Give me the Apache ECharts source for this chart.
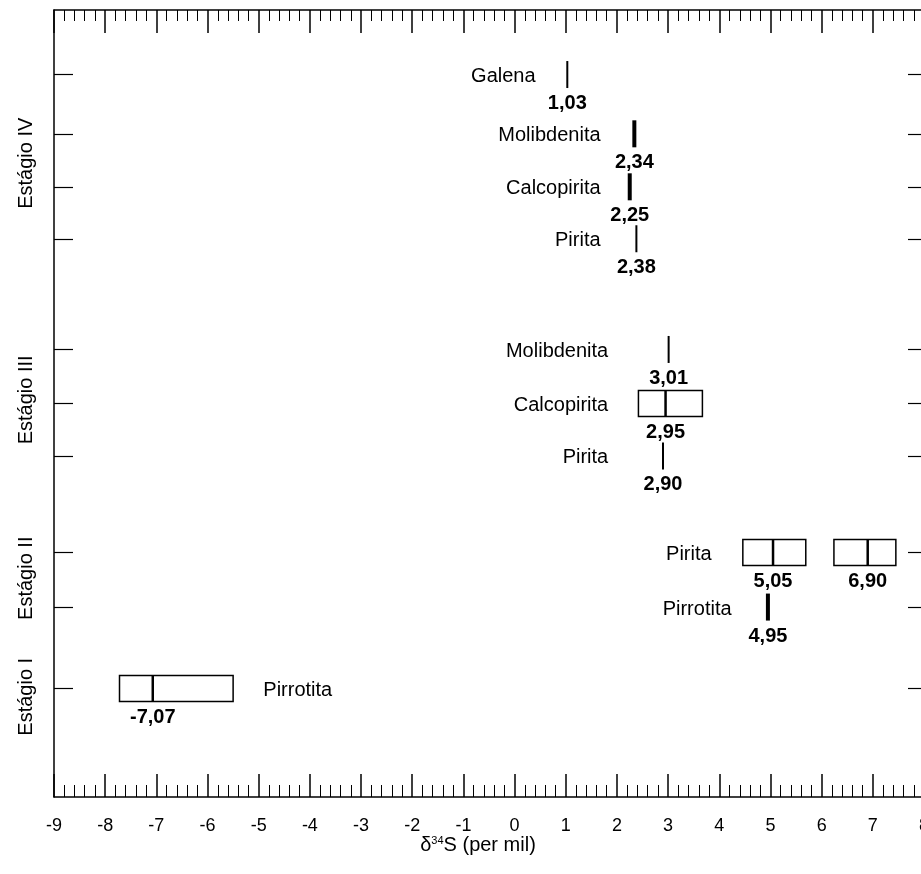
<!DOCTYPE html>
<html>
<head>
<meta charset="utf-8">
<script src="https://cdn.jsdelivr.net/npm/echarts@6/dist/echarts.min.js"></script>
<style>
html,body{margin:0;padding:0;background:#fff;}
#chart{width:921px;height:874px;}
</style>
</head>
<body>
<div id="chart"></div>
<script>
// ---- data ----
const stageNames = ['Estágio I', 'Estágio II', 'Estágio III', 'Estágio IV'];
const stageCenters = [1.91, 4.17, 7.57, 12.08];
const rowTicks = [2.07, 3.62, 4.66, 6.50, 7.50, 8.53, 10.64, 11.63, 12.64, 13.77];

// one entry per mark
const markMineral = ['Galena', 'Molibdenita', 'Calcopirita', 'Pirita', 'Molibdenita', 'Calcopirita', 'Pirita', 'Pirita', 'Pirita', 'Pirrotita', 'Pirrotita'];
const markRow = [13.77, 12.64, 11.63, 10.64, 8.53, 7.50, 6.50, 4.66, 4.66, 3.62, 2.07];
const markValue = [1.03, 2.34, 2.25, 2.38, 3.01, 2.95, 2.90, 5.05, 6.90, 4.95, -7.07];
const rangeLow = [null, null, null, null, null, 2.42, null, 4.46, 6.24, null, -7.72];
const rangeHigh = [null, null, null, null, null, 3.67, null, 5.69, 7.45, null, -5.50];

// one entry per mineral name label
const labelText = ['Galena', 'Molibdenita', 'Calcopirita', 'Pirita', 'Molibdenita', 'Calcopirita', 'Pirita', 'Pirita', 'Pirrotita', 'Pirrotita'];
const labelRow = [13.77, 12.64, 11.63, 10.64, 8.53, 7.50, 6.50, 4.66, 3.62, 2.07];
const labelAnchor = [0.41, 1.68, 1.68, 1.68, 1.83, 1.83, 1.83, 3.85, 4.24, -4.91];

// ---- styles ----
const FONT = '"Liberation Sans", Arial, sans-serif';
const thickMark = [false, true, true, false, false, false, false, false, false, true, false];
const labelAlign = ['right', 'right', 'right', 'right', 'right', 'right', 'right', 'right', 'right', 'left'];

const chart = echarts.init(document.getElementById('chart'), null, {renderer: 'canvas'});

const markData = markValue.map((v, i) => [v, markRow[i], i]);
const labelData = labelAnchor.map((v, i) => [v, labelRow[i], i]);

function fmt(v) { return v.toFixed(2).replace('.', ','); }

function renderMark(params, api) {
  const i = params.dataIndex;
  const c = api.coord([markValue[i], markRow[i]]);
  const children = [];
  if (rangeLow[i] !== null) {
    const lo = api.coord([rangeLow[i], markRow[i]]);
    const hi = api.coord([rangeHigh[i], markRow[i]]);
    children.push({
      type: 'rect',
      shape: {x: lo[0], y: c[1] - 13, width: hi[0] - lo[0], height: 26},
      style: {fill: '#fff', stroke: '#000', lineWidth: 1.5}
    });
    children.push({
      type: 'line',
      shape: {x1: c[0], y1: c[1] - 13, x2: c[0], y2: c[1] + 13},
      style: {stroke: '#000', lineWidth: 2.5}
    });
  } else {
    children.push({
      type: 'line',
      shape: {x1: c[0], y1: c[1] - 13.5, x2: c[0], y2: c[1] + 13.5},
      style: {stroke: '#000', lineWidth: thickMark[i] ? 4 : 2}
    });
  }
  children.push({
    type: 'text',
    style: {
      text: fmt(markValue[i]), x: c[0], y: c[1] + 29,
      fill: '#000', fontSize: 20, fontWeight: 'bold', fontFamily: FONT,
      align: 'center', verticalAlign: 'middle'
    }
  });
  return {type: 'group', children};
}

function renderLabel(params, api) {
  const i = params.dataIndex;
  const c = api.coord([labelAnchor[i], labelRow[i]]);
  return {
    type: 'text',
    style: {
      text: labelText[i], x: c[0], y: c[1] + 2,
      fill: '#000', fontSize: 20, fontFamily: FONT,
      align: labelAlign[i], verticalAlign: 'middle'
    }
  };
}

const axisLineStyle = {color: '#000', width: 1.5};

const option = {
  animation: false,
  backgroundColor: '#fff',
  grid: {left: 54, right: -3, top: 10, bottom: 77, containLabel: false, outerBoundsMode: 'none'},
  xAxis: [
    {
      type: 'value', min: -9, max: 8, interval: 1, position: 'bottom',
      axisLine: {show: true, onZero: false, lineStyle: axisLineStyle},
      axisTick: {show: true, inside: true, length: 23, lineStyle: {color: '#000', width: 1.5}},
      minorTick: {show: true, splitNumber: 5, length: 12, lineStyle: {color: '#000', width: 1}},
      splitLine: {show: false},
      axisLabel: {color: '#000', fontSize: 18, fontFamily: FONT, margin: 20},
      name: '{d|δ}{s|34}{n|S (per mil)}',
      nameLocation: 'middle', nameGap: 38, nameMoveOverlap: false,
      nameTextStyle: {
        padding: [0, 22, 0, 0],
        rich: {
          d: {fontSize: 20, fontFamily: FONT, color: '#000'},
          s: {fontSize: 11, fontFamily: FONT, color: '#000', padding: [0, 0, 10, 0]},
          n: {fontSize: 20, fontFamily: FONT, color: '#000'}
        }
      }
    },
    {
      type: 'value', min: -9, max: 8, interval: 1, position: 'top',
      axisLine: {show: true, onZero: false, lineStyle: axisLineStyle},
      axisTick: {show: true, inside: true, length: 23, lineStyle: {color: '#000', width: 1.5}},
      minorTick: {show: true, splitNumber: 5, length: 11, lineStyle: {color: '#000', width: 1}},
      splitLine: {show: false},
      axisLabel: {show: false}
    }
  ],
  yAxis: [
    {
      type: 'value', min: 0, max: 15, position: 'left',
      axisLine: {show: true, onZero: false, lineStyle: axisLineStyle},
      axisTick: {show: true, inside: true, length: 19, customValues: rowTicks, lineStyle: {color: '#000', width: 1.2}},
      splitLine: {show: false},
      axisLabel: {
        customValues: stageCenters,
        formatter: function (v) {
          const k = stageCenters.findIndex(s => Math.abs(s - v) < 1e-6);
          return k >= 0 ? stageNames[k] : '';
        },
        rotate: 90, color: '#000', fontSize: 20, fontFamily: FONT, margin: 18
      }
    },
    {
      type: 'value', min: 0, max: 15, position: 'right',
      axisLine: {show: true, onZero: false, lineStyle: axisLineStyle},
      axisTick: {show: true, inside: true, length: 16, customValues: rowTicks, lineStyle: {color: '#000', width: 1.2}},
      splitLine: {show: false},
      axisLabel: {show: false}
    }
  ],
  series: [
    {type: 'custom', xAxisIndex: 0, yAxisIndex: 0, renderItem: renderMark, data: markData, clip: false},
    {type: 'custom', xAxisIndex: 0, yAxisIndex: 0, renderItem: renderLabel, data: labelData, clip: false}
  ]
};

chart.setOption(option);
</script>
</body>
</html>
